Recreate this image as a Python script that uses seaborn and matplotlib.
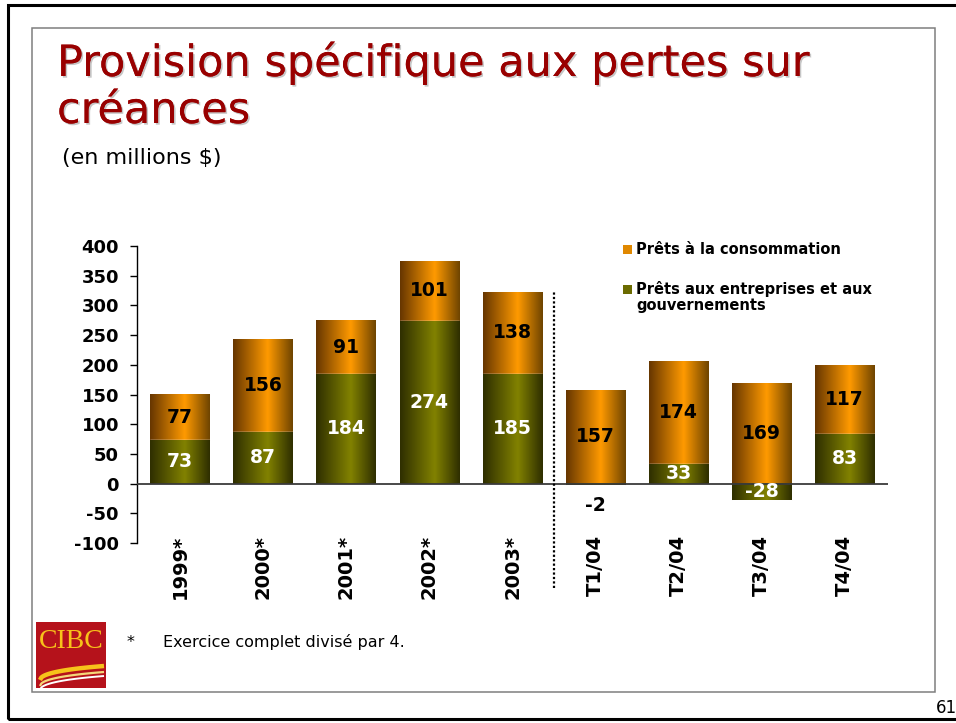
import numpy as np
import seaborn as sns
import matplotlib
matplotlib.use('Agg')
import matplotlib.pyplot as plt
import matplotlib.patheffects as pe
from matplotlib.patches import Rectangle
from matplotlib.colors import LinearSegmentedColormap

categories = ['1999*', '2000*', '2001*', '2002*', '2003*', 'T1/04', 'T2/04', 'T3/04', 'T4/04']
consommation = [77, 156, 91, 101, 138, 157, 174, 169, 117]
entreprises = [73, 87, 184, 274, 185, -2, 33, -28, 83]
legend_labels = ['Prêts à la consommation', 'Prêts aux entreprises et aux\ngouvernements']
yticks = list(range(-100, 401, 50))

W, H = 956, 723


def fx(px):
    return px / W


def fy(py):
    return 1 - py / H


sns.set_theme(style='white')
plt.rcParams['font.family'] = ['DejaVu Sans']
plt.rcParams['text.color'] = 'black'

fig = plt.figure(figsize=(W / 100, H / 100), dpi=100)
fig.patch.set_facecolor('white')
ax = fig.add_axes([fx(137), fy(543), fx(888) - fx(137), fy(246) - fy(543)])

orange_cmap = LinearSegmentedColormap.from_list('orange', [(0, '#663600'), (0.58, '#ff9a00'), (1, '#6e4400')])
olive_cmap = LinearSegmentedColormap.from_list('olive', [(0, '#2e2e00'), (0.58, '#828200'), (1, '#2e2e00')])
grad = np.linspace(0, 1, 256).reshape(1, -1)

# orange sits on top of the positive part of the business loans
tops = [max(b, 0) + c for b, c in zip(entreprises, consommation)]
sns.barplot(x=categories, y=tops, color='#ff9a00', saturation=1, width=0.72, errorbar=None, ax=ax, zorder=2)
n = len(categories)
sns.barplot(x=categories, y=entreprises, color='#828200', saturation=1, width=0.72, errorbar=None, ax=ax, zorder=3)

for i, patch in enumerate(ax.patches):
    x0, y0 = patch.get_x(), patch.get_y()
    w, h = patch.get_width(), patch.get_height()
    cmap = orange_cmap if i < n else olive_cmap
    z = 2.5 if i < n else 3.5
    ax.imshow(grad, cmap=cmap, aspect='auto', extent=(x0, x0 + w, y0, y0 + h), zorder=z, interpolation='bilinear')

ax.set_xlim(-0.52, 8.52)
ax.set_ylim(-100, 400)
ax.set_yticks(yticks)
ax.set_yticklabels([str(t) for t in yticks], fontweight='bold', fontsize=13, color='black')
ax.set_xticks(range(n))
ax.set_xticklabels(categories, rotation=90, fontweight='bold', fontsize=14, color='black')
ax.tick_params(axis='x', length=0, pad=-6)
ax.tick_params(axis='y', direction='out', length=5, width=1, color='black', left=True, pad=8)
for s in ['top', 'right', 'bottom']:
    ax.spines[s].set_visible(False)
ax.spines['left'].set_color('black')
ax.spines['left'].set_linewidth(1)
ax.set_facecolor('white')
ax.axhline(0, color='#3a3a3a', lw=1.3, zorder=4)
ax.plot([4.5, 4.5], [-175, 325], color='black', lw=1.6, ls=(0, (1, 1)), clip_on=False, zorder=4)

for i, (b, c) in enumerate(zip(entreprises, consommation)):
    base = max(b, 0)
    ax.text(i, base + c / 2, str(c), ha='center', va='center', fontsize=13.5, fontweight='bold', color='black', zorder=6)
    if abs(b) < 10:
        ax.text(i, -37, str(b), ha='center', va='center', fontsize=13.5, fontweight='bold', color='black', zorder=6)
    else:
        ax.text(i, b / 2, str(b), ha='center', va='center', fontsize=13.5, fontweight='bold', color='white', zorder=6)

# legend
fig.patches.append(Rectangle((fx(623), fy(254)), 9 / W, 9 / H, transform=fig.transFigure, fc='#e08800', ec='none'))
fig.patches.append(Rectangle((fx(623), fy(294)), 9 / W, 9 / H, transform=fig.transFigure, fc='#6b6b00', ec='none'))
fig.text(fx(636), fy(249), legend_labels[0], fontsize=10.5, fontweight='bold', va='center', ha='left')
fig.text(fx(636), fy(281), legend_labels[1], fontsize=10.5, fontweight='bold', va='top', ha='left', linespacing=1.1)

# title
shadow = [pe.withSimplePatchShadow(offset=(1.2, -1.2), shadow_rgbFace='#a0a0a0', alpha=0.6), pe.Normal()]
fig.text(fx(57), fy(76), 'Provision spécifique aux pertes sur', fontsize=31, color='#990000', ha='left', va='baseline', path_effects=shadow)
fig.text(fx(57), fy(123), 'créances', fontsize=31, color='#990000', ha='left', va='baseline', path_effects=shadow)
fig.text(fx(62), fy(164), '(en millions $)', fontsize=16, color='black', ha='left', va='baseline')

# footnote
fig.text(fx(127), fy(642), '*', fontsize=11.5, ha='left', va='center')
fig.text(fx(163), fy(642), 'Exercice complet divisé par 4.', fontsize=11.5, ha='left', va='center')
fig.text(fx(936), fy(708), '61', fontsize=12, ha='left', va='center')

# CIBC logo
fig.patches.append(Rectangle((fx(36), fy(688)), 70 / W, 66 / H, transform=fig.transFigure, fc='#b5121b', ec='none'))
fig.text(fx(71), fy(641), 'CIBC', fontsize=20, color='#f7c21a', family='Liberation Serif', ha='center', va='center')
t = np.linspace(0, 1, 50)
for dy, col, lw in [(0, '#f7c21a', 3.2), (6, '#f4d77a', 1.6), (10, '#ffffff', 1.4)]:
    px = 40 + 64 * t
    py = 680 + dy - 18 * np.sqrt(t) + 4 * t
    fig.add_artist(plt.Line2D(fx(px), fy(py), transform=fig.transFigure, color=col, lw=lw, solid_capstyle='butt'))

# frames
fig.patches.append(Rectangle((fx(8), fy(719)), 980 / W, 714 / H, transform=fig.transFigure, fill=False, ec='black', lw=2.2))
fig.patches.append(Rectangle((fx(32), fy(692)), 903 / W, 664 / H, transform=fig.transFigure, fill=False, ec='#7f7f7f', lw=1.1))

fig.savefig('out.png', dpi=100)
